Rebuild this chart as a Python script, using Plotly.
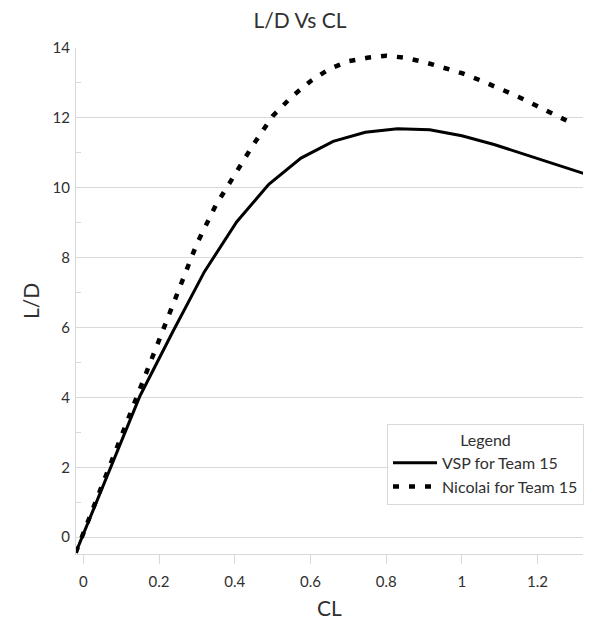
import plotly.graph_objects as go

# ---- data ----
vsp_cl = [-0.02, 0.065, 0.15, 0.235, 0.32, 0.405, 0.49, 0.575, 0.66, 0.745,
          0.83, 0.915, 1.0, 1.085, 1.17, 1.25, 1.33]
vsp_ld = [-0.44, 1.80, 4.05, 5.85, 7.60, 9.02, 10.10, 10.85, 11.33, 11.59,
          11.69, 11.66, 11.49, 11.24, 10.94, 10.64, 10.38]

nic_cl = [-0.02, 0.05, 0.10, 0.15, 0.20, 0.25, 0.30, 0.35, 0.40, 0.45, 0.50,
          0.55, 0.60, 0.65, 0.70, 0.75, 0.80, 0.85, 0.90, 0.95, 1.00, 1.05,
          1.10, 1.15, 1.20, 1.25, 1.30]
nic_ld = [-0.44, 1.50, 2.90, 4.25, 5.70, 7.10, 8.40, 9.50, 10.40, 11.25, 12.05,
          12.60, 13.05, 13.40, 13.62, 13.72, 13.78, 13.72, 13.60, 13.45, 13.28,
          13.07, 12.84, 12.60, 12.33, 12.08, 11.80]

series_names = ["VSP for Team 15", "Nicolai for Team 15"]
title_text = "L/D Vs CL"
x_title = "CL"
y_title = "L/D"
legend_title = "Legend"

FONT = "Lato"
TXT = "#303030"
GRID = "#d9d9d9"

# the page body adds an 8px margin, so the figure is offset by 8px
W, H = 603, 612
ML, MR, MT, MB = 68, 28, 40, 66
PW, PH = W - ML - MR, H - MT - MB

fig = go.Figure()
fig.add_trace(go.Scatter(x=vsp_cl, y=vsp_ld, mode="lines", name=series_names[0],
                         line=dict(color="black", width=3)))
fig.add_trace(go.Scatter(x=nic_cl, y=nic_ld, mode="lines", name=series_names[1],
                         line=dict(color="black", width=4.5, dash="6px,10px")))

fig.update_layout(
    width=W, height=H, autosize=False,
    margin=dict(l=ML, r=MR, t=MT, b=MB),
    paper_bgcolor="white", plot_bgcolor="white",
    font=dict(family=FONT, color=TXT, size=15),
    title=dict(text=title_text, xref="container", yref="container",
               x=292 / W, y=1 - 13 / H, xanchor="center", yanchor="middle",
               font=dict(family=FONT, size=21, color=TXT)),
    xaxis=dict(range=[-0.0193, 1.32], tick0=0, dtick=0.2, showgrid=False,
               zeroline=False, showline=True, linecolor=GRID, linewidth=1,
               ticks="outside", ticklen=9, tickcolor=GRID, tickwidth=1,
               tickfont=dict(size=15, color=TXT), ticklabelstandoff=5,
               automargin=False),
    yaxis=dict(range=[-0.48, 14], tick0=0, dtick=2, showgrid=True,
               gridcolor=GRID, gridwidth=1, zeroline=False, showline=True,
               linecolor=GRID, linewidth=1, ticks="",
               tickfont=dict(size=15, color=TXT), ticklabelstandoff=2,
               automargin=False,
               minor=dict(tick0=1, dtick=2, ticks="inside", ticklen=5,
                          tickcolor=GRID, showgrid=False)),
    legend=dict(x=(379 - ML) / PW, y=(546 - 416) / PH, xanchor="left",
                yanchor="top", bgcolor="white", bordercolor=GRID, borderwidth=1,
                font=dict(size=16, color=TXT), itemwidth=44,
                title=dict(text=legend_title, side="top center",
                           font=dict(size=16, color=TXT))),
    annotations=[
        dict(text=x_title, xref="paper", yref="paper", x=0.5,
             y=(546 - 599) / PH, xanchor="center", yanchor="middle",
             showarrow=False, font=dict(size=21, color=TXT, family=FONT)),
        dict(text=y_title, xref="paper", yref="paper", x=(22 - ML) / PW,
             y=0.5, xanchor="center", yanchor="middle", textangle=-90,
             showarrow=False, font=dict(size=21, color=TXT, family=FONT)),
    ],
)

fig.write_html("out.html")
